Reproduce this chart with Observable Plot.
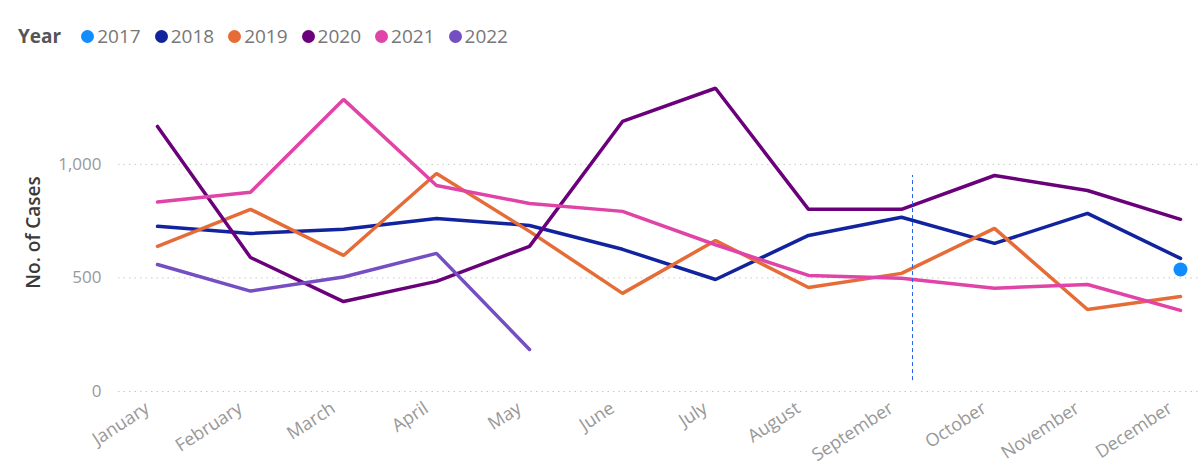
<!DOCTYPE html>
<html>
<head>
<meta charset="utf-8">
<script src="https://cdn.jsdelivr.net/npm/d3@7"></script>
<script src="https://cdn.jsdelivr.net/npm/@observablehq/plot@0.6"></script>
<style>
  html, body { margin: 0; padding: 0; background: #fff; font-family: "Open Sans", "Noto Sans", sans-serif; }
  #wrap { position: relative; width: 1200px; height: 469px; overflow: hidden; }
  #legend { position: absolute; left: 18px; top: 22px; display: flex; align-items: center; font-size: 19px; line-height: 28px; color: #777; }
  #legend .title { font-weight: bold; color: #555; margin-right: 20px; }
  #legend .item { display: flex; align-items: center; margin-right: 14px; }
  #legend .sw { width: 13px; height: 13px; border-radius: 50%; margin-right: 3px; }
  #chart { position: absolute; left: 0; top: 60px; }
</style>
</head>
<body>
<div id="wrap">
  <div id="legend"></div>
  <div id="chart"></div>
</div>
<script>
const months = ["January","February","March","April","May","June","July","August","September","October","November","December"];
const years = ["2017","2018","2019","2020","2021","2022"];
const cases2017 = [null,null,null,null,null,null,null,null,null,null,null,537];
const cases2018 = [727,696,714,762,731,626,493,687,767,652,784,586];
const cases2019 = [639,802,599,960,705,432,665,458,520,718,361,418];
const cases2020 = [1167,590,396,485,639,1189,1335,802,802,951,885,758];
const cases2021 = [834,877,1286,907,828,793,646,511,499,455,471,357];
const cases2022 = [559,442,504,608,185,null,null,null,null,null,null,null];
const yTicks = [0, 500, 1000];
const cursorMonth = ["September"];
const cursorRange = [48, 951];

const palette = ["#118DFF","#12239E","#E66C37","#6B007B","#E044A7","#744EC2"];
const series = [cases2017, cases2018, cases2019, cases2020, cases2021, cases2022];

const rows = [];
years.forEach((yr, i) => {
  months.forEach((m, j) => {
    const v = series[i][j];
    if (v != null) rows.push({year: yr, month: m, cases: v});
  });
});

// legend
const legend = document.getElementById("legend");
const t = document.createElement("span");
t.className = "title"; t.textContent = "Year";
legend.appendChild(t);
years.forEach((yr, i) => {
  const it = document.createElement("span");
  it.className = "item";
  const sw = document.createElement("span");
  sw.className = "sw"; sw.style.background = palette[i];
  const lb = document.createElement("span");
  lb.textContent = yr;
  it.appendChild(sw); it.appendChild(lb);
  legend.appendChild(it);
});

const chart = Plot.plot({
  width: 1200,
  height: 409,
  marginTop: 13,
  marginBottom: 78,
  marginLeft: 118,
  marginRight: 0,
  insetLeft: 39,
  insetRight: 20,
  style: {fontFamily: "'Open Sans', 'Noto Sans', sans-serif", background: "#fff"},
  x: {type: "point", domain: months, padding: 0},
  y: {domain: [0, 1400]},
  color: {domain: years, range: palette},
  marks: [
    Plot.gridY(yTicks, {stroke: "#c8c8c8", strokeOpacity: 1, strokeDasharray: "1.5,4"}),
    Plot.axisY(yTicks, {tickSize: 0, tickPadding: 17, fontSize: 17, fill: "#999", tickFormat: d3.format(","), label: null}),
    Plot.axisX({tickSize: 0, tickRotate: -33, tickPadding: 10, dx: -10, dy: 5, fontSize: 18, fill: "#999", label: null}),
    Plot.text(["No. of Cases"], {frameAnchor: "left", textAnchor: "middle", dx: -85, rotate: -90, fontSize: 19, fontWeight: 600, fill: "#3a3a3a"}),
    Plot.line(rows.filter(d => d.year !== "2017"), {x: "month", y: "cases", z: "year", stroke: "year", strokeWidth: 3.5, strokeLinejoin: "miter"}),
    Plot.dot(rows.filter(d => d.year === "2017"), {x: "month", y: "cases", fill: "year", r: 7}),
    Plot.ruleX(cursorMonth, {x: d => d, y1: cursorRange[0], y2: cursorRange[1], dx: 11, stroke: "#2563eb", strokeWidth: 1, strokeDasharray: "4,3"})
  ]
});
document.getElementById("chart").appendChild(chart);
</script>
</body>
</html>
